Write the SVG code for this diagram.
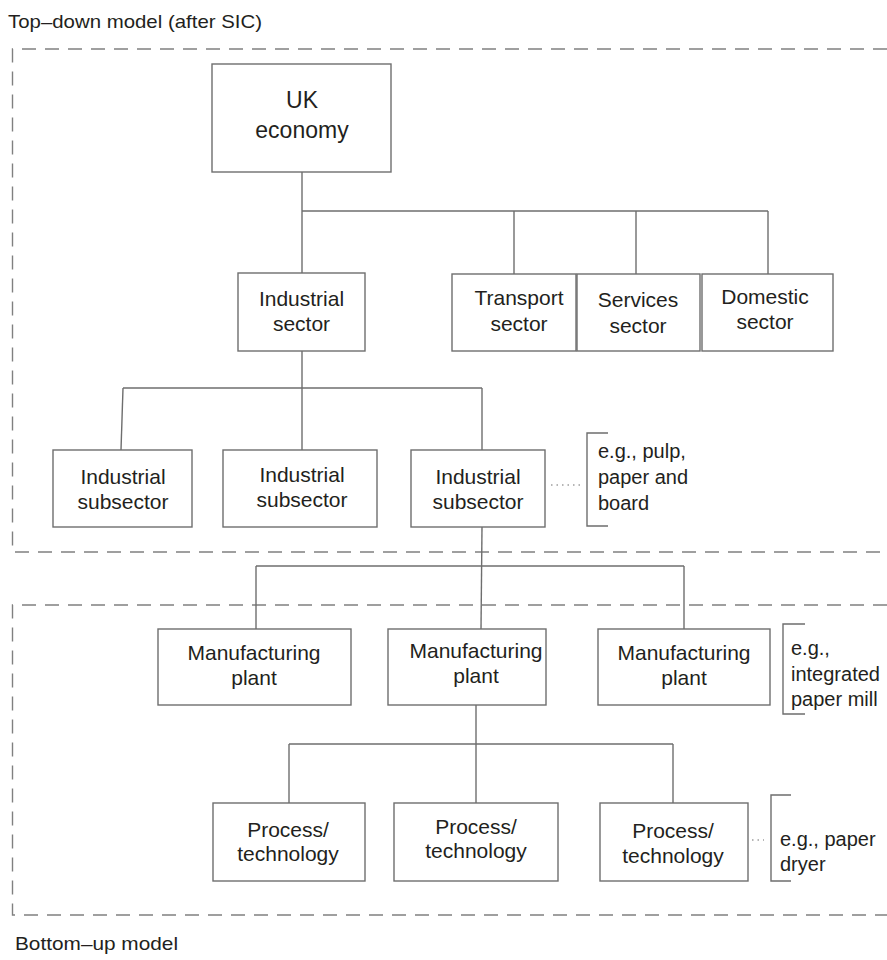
<svg xmlns="http://www.w3.org/2000/svg" width="887" height="960" viewBox="0 0 887 960">
<style>
  .bg{fill:#ffffff}
  .box{fill:#ffffff;stroke:#6e6e6e;stroke-width:1.4}
  .ln{fill:none;stroke:#6e6e6e;stroke-width:1.4}
  .dash{fill:none;stroke:#808080;stroke-width:1.4;stroke-dasharray:14 9}
  .dot{fill:none;stroke:#6e6e6e;stroke-width:1.2;stroke-dasharray:1.5 4}
  .t{font-family:"Liberation Sans",Arial,sans-serif;font-size:21px;fill:#231f20;text-anchor:middle}
  .big{font-size:23px}
  .note{font-family:"Liberation Sans",Arial,sans-serif;font-size:20px;fill:#231f20}
  .lab{font-family:"Liberation Sans",Arial,sans-serif;font-size:19px;fill:#231f20}
</style>
<rect class="bg" x="0" y="0" width="887" height="960"/>

<g id="frames">
  <path class="dash" d="M887 49 H12.5 V552 H887"/>
  <path class="dash" d="M887 605 H12.5 V915 H887"/>
  <text class="lab" x="8" y="28" textLength="254" lengthAdjust="spacingAndGlyphs">Top–down model (after SIC)</text>
  <text class="lab" x="15" y="950" textLength="163" lengthAdjust="spacingAndGlyphs">Bottom–up model</text>
</g>

<g id="connectors">
  <path class="ln" d="M302 172 V273"/>
  <path class="ln" d="M302 211 H768"/>
  <path class="ln" d="M514 211 V274"/>
  <path class="ln" d="M636 211 V274"/>
  <path class="ln" d="M768 211 V274"/>
  <path class="ln" d="M302 351 V450"/>
  <path class="ln" d="M123 388 H482"/>
  <path class="ln" d="M123 388 L121 450"/>
  <path class="ln" d="M482 388 V450"/>
  <path class="ln" d="M482 527 L481 629"/>
  <path class="ln" d="M256 566 H684"/>
  <path class="ln" d="M256 566 V629"/>
  <path class="ln" d="M684 566 V629"/>
  <path class="ln" d="M476 705 V803"/>
  <path class="ln" d="M289 744 H673"/>
  <path class="ln" d="M289 744 V803"/>
  <path class="ln" d="M673 744 V803"/>
  <path class="dot" d="M551 485 H580"/>
  <path class="dot" d="M752 840 H764"/>
  <path class="ln" d="M608 433 H587 V526 H608"/>
  <path class="ln" d="M805 624 H783 V714 H805"/>
  <path class="ln" d="M791 795 H771 V881 H791"/>
</g>

<g id="uk-economy">
  <rect class="box" x="212" y="64" width="179" height="108"/>
  <text class="t big" x="302" y="108">UK</text>
  <text class="t big" x="302" y="138">economy</text>
</g>

<g id="industrial-sector">
  <rect class="box" x="238" y="273" width="127" height="78"/>
  <text class="t" x="301.5" y="306">Industrial</text>
  <text class="t" x="301.5" y="331">sector</text>
</g>
<g id="transport-sector">
  <rect class="box" x="452" y="274" width="124" height="77"/>
  <text class="t" x="519" y="305">Transport</text>
  <text class="t" x="519" y="331">sector</text>
</g>
<g id="services-sector">
  <rect class="box" x="577" y="274" width="123" height="77"/>
  <text class="t" x="638" y="307">Services</text>
  <text class="t" x="638" y="333">sector</text>
</g>
<g id="domestic-sector">
  <rect class="box" x="702" y="274" width="131" height="77"/>
  <text class="t" x="765" y="304">Domestic</text>
  <text class="t" x="765" y="329">sector</text>
</g>

<g id="subsector-1">
  <rect class="box" x="53" y="450" width="139" height="77"/>
  <text class="t" x="123" y="484">Industrial</text>
  <text class="t" x="123" y="509">subsector</text>
</g>
<g id="subsector-2">
  <rect class="box" x="223" y="450" width="154" height="77"/>
  <text class="t" x="302" y="482">Industrial</text>
  <text class="t" x="302" y="507">subsector</text>
</g>
<g id="subsector-3">
  <rect class="box" x="411" y="450" width="134" height="77"/>
  <text class="t" x="478" y="484">Industrial</text>
  <text class="t" x="478" y="509">subsector</text>
</g>
<g id="note-subsector">
  <text class="note" x="598" y="458">e.g., pulp,</text>
  <text class="note" x="598" y="484">paper and</text>
  <text class="note" x="598" y="510">board</text>
</g>

<g id="plant-1">
  <rect class="box" x="158" y="629" width="193" height="76"/>
  <text class="t" x="254" y="660">Manufacturing</text>
  <text class="t" x="254" y="685">plant</text>
</g>
<g id="plant-2">
  <rect class="box" x="388" y="629" width="158" height="76"/>
  <text class="t" x="476" y="658">Manufacturing</text>
  <text class="t" x="476" y="683">plant</text>
</g>
<g id="plant-3">
  <rect class="box" x="598" y="629" width="172" height="76"/>
  <text class="t" x="684" y="660">Manufacturing</text>
  <text class="t" x="684" y="685">plant</text>
</g>
<g id="note-plant">
  <text class="note" x="791" y="655">e.g.,</text>
  <text class="note" x="791" y="681">integrated</text>
  <text class="note" x="791" y="706">paper mill</text>
</g>

<g id="process-1">
  <rect class="box" x="213" y="803" width="152" height="78"/>
  <text class="t" x="288" y="837">Process/</text>
  <text class="t" x="288" y="861">technology</text>
</g>
<g id="process-2">
  <rect class="box" x="394" y="803" width="164" height="78"/>
  <text class="t" x="476" y="834">Process/</text>
  <text class="t" x="476" y="858">technology</text>
</g>
<g id="process-3">
  <rect class="box" x="600" y="803" width="148" height="78"/>
  <text class="t" x="673" y="838">Process/</text>
  <text class="t" x="673" y="863">technology</text>
</g>
<g id="note-process">
  <text class="note" x="780" y="846">e.g., paper</text>
  <text class="note" x="780" y="871">dryer</text>
</g>
</svg>
